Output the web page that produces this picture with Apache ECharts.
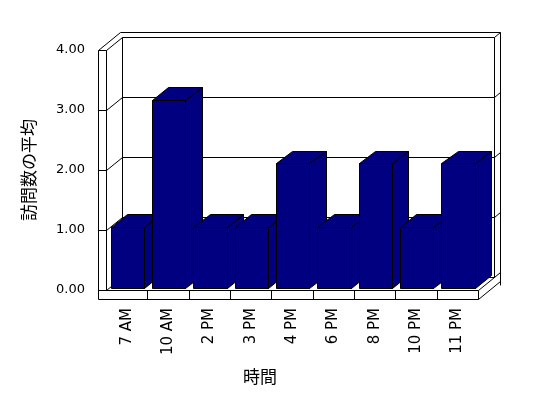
<!DOCTYPE html>
<html>
<head>
<meta charset="utf-8">
<script src="https://cdn.jsdelivr.net/npm/echarts@6/dist/echarts.min.js"></script>
<style>
html,body{margin:0;padding:0;background:#fff;}
#chart{width:548px;height:398px;}
</style>
</head>
<body>
<div id="chart"></div>
<script>
// ---- data ----
const categories = ['7 AM', '10 AM', '2 PM', '3 PM', '4 PM', '6 PM', '8 PM', '10 PM', '11 PM'];
const visits = [1, 3, 1, 1, 2, 1, 2, 1, 2];
const yTicks = [0, 1, 2, 3, 4];
const xTitle = '時間';
const yTitle = '訪問数の平均';

// ---- 3D look (styles) ----
const DX = 16.3, DY = -12.7;   // depth of plot box
const TX = 6, TY = -5;         // back wall thickness
const WALL = 8;                // left wall thickness
const FLOOR = 9;               // floor thickness
const BAR_COLOR = '#000080';
const px = v => Math.round(v) + 0.5;

const chart = echarts.init(document.getElementById('chart'), null, {renderer: 'canvas'});

function line(x1, y1, x2, y2) {
  return {type: 'line', shape: {x1: px(x1), y1: px(y1), x2: px(x2), y2: px(y2)},
          style: {stroke: '#000', lineWidth: 1}, silent: true};
}

function renderFrame(params, api) {
  const tick = api.value(1);
  const n = categories.length;
  const bw = api.size([1, 0])[0];
  const L = api.coord([0, 0])[0] - bw / 2;
  const R = api.coord([n - 1, 0])[0] + bw / 2;
  const y = api.coord([0, tick])[1];
  const y0 = api.coord([0, yTicks[0]])[1];
  const yTop = api.coord([0, yTicks[yTicks.length - 1]])[1];
  const children = [];
  // gridline: left wall front tick, diagonal, back wall line, right edge diagonal
  children.push(line(L - WALL, y, L, y));
  children.push(line(L, y, L + DX, y + DY));
  children.push(line(L + DX, y + DY, R + DX, y + DY));
  children.push(line(R + DX, y + DY, R + DX + TX, y + DY + TY));
  if (params.dataIndex === 0) {
    // left wall
    children.push(line(L - WALL, yTop, L - WALL, y0 + FLOOR));
    children.push(line(L, yTop, L, y0));
    children.push(line(L - WALL, yTop, L - WALL + DX + TX, yTop + DY + TY));
    // back wall
    children.push(line(L - WALL + DX + TX, yTop + DY + TY, R + DX + TX, yTop + DY + TY));
    children.push(line(L + DX, yTop + DY, L + DX, y0 + DY));
    children.push(line(R + DX, yTop + DY, R + DX, y0 + DY));
    children.push(line(R + DX + TX, yTop + DY + TY, R + DX + TX, y0 + FLOOR + DY + TY + 4));
    // floor front face
    children.push(line(L - WALL, y0, R, y0));
    children.push(line(L - WALL, y0 + FLOOR, R, y0 + FLOOR));
    for (let i = 1; i <= n; i++) {
      const xb = api.coord([i - 1, 0])[0] + bw / 2;
      children.push(line(xb, y0, xb, y0 + FLOOR));
    }
    // floor right side
    children.push(line(R, y0, R + DX, y0 + DY));
    children.push(line(R, y0 + FLOOR, R + DX + TX, y0 + FLOOR + DY + TY));
  }
  return {type: 'group', children: children};
}

function renderBar(params, api) {
  const i = api.value(0);
  const v = api.value(1);
  const bw = api.size([1, 0])[0];
  const top = api.coord([i, v]);
  const base = api.coord([i, 0]);
  const fl = top[0] - bw / 2 + bw * 0.114;
  const fr = fl + bw * 0.808;
  const ft = top[1];
  const fb = base[1] - 2.5;
  const st = {fill: BAR_COLOR, stroke: '#000', lineWidth: 1};
  const P = (x, yy) => [px(x), px(yy)];
  return {
    type: 'group',
    children: [
      {type: 'polygon', shape: {points: [P(fr, ft), P(fr + DX, ft + DY), P(fr + DX, fb + DY), P(fr, fb)]}, style: st},
      {type: 'polygon', shape: {points: [P(fl, ft), P(fr, ft), P(fr + DX, ft + DY), P(fl + DX, ft + DY)]}, style: st},
      {type: 'polygon', shape: {points: [P(fl, ft), P(fr, ft), P(fr, fb), P(fl, fb)]}, style: st}
    ]
  };
}

const option = {
  animation: false,
  backgroundColor: '#fff',
  grid: {left: 106, right: 70, top: 50, bottom: 108},
  xAxis: {
    type: 'category',
    data: categories,
    boundaryGap: true,
    axisLine: {show: false},
    axisTick: {show: false},
    splitLine: {show: false},
    axisLabel: {rotate: 90, fontSize: 15, margin: 18, color: '#000', fontFamily: 'DejaVu Sans', interval: 0},
    name: xTitle,
    nameLocation: 'middle',
    nameGap: 78,
    nameTextStyle: {fontSize: 17, color: '#000', fontFamily: 'Noto Sans CJK JP', padding: [0, 64, 0, 0]}
  },
  yAxis: [{
    type: 'value',
    min: yTicks[0],
    max: yTicks[yTicks.length - 1],
    interval: 1,
    axisLine: {show: false},
    axisTick: {show: false},
    splitLine: {show: false},
    axisLabel: {formatter: v => v.toFixed(2), fontSize: 13, margin: 21, color: '#000', fontFamily: 'DejaVu Sans'},
    name: yTitle,
    nameLocation: 'middle',
    nameRotate: 90,
    nameGap: 69,
    nameTextStyle: {fontSize: 17, color: '#000', fontFamily: 'Noto Sans CJK JP'}
  }, {
    // bar scale of the 3D rendering (bars drawn slightly taller than the wall grid)
    type: 'value', show: false, min: 0, max: 240 / 63.35
  }],
  series: [{
    type: 'custom',
    name: 'frame',
    xAxisIndex: 0,
    yAxisIndex: 0,
    clip: false,
    silent: true,
    renderItem: renderFrame,
    data: yTicks.map(t => [0, t]),
    z: 1
  }, {
    type: 'custom',
    name: '訪問数の平均',
    xAxisIndex: 0,
    yAxisIndex: 1,
    clip: false,
    renderItem: renderBar,
    data: visits.map((v, i) => [i, v]),
    z: 2
  }]
};
chart.setOption(option);
</script>
</body>
</html>
